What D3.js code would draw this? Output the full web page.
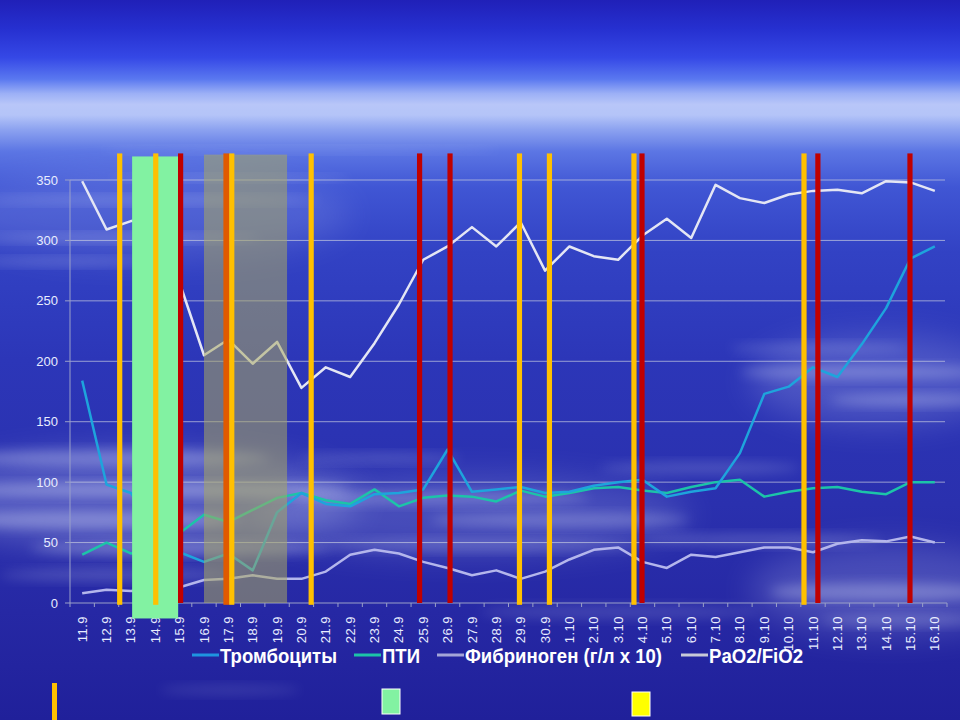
<!DOCTYPE html>
<html><head><meta charset="utf-8">
<script src="https://cdn.jsdelivr.net/npm/d3@7"></script>
<style>html,body{margin:0;padding:0;background:#2828a8;}svg{display:block;}</style>
</head><body>
<svg id="c" width="960" height="720"></svg>
<script>
const categories = ["11.9","12.9","13.9","14.9","15.9","16.9","17.9","18.9","19.9","20.9","21.9","22.9","23.9","24.9","25.9","26.9","27.9","28.9","29.9","30.9","1.10","2.10","3.10","4.10","5.10","6.10","7.10","8.10","9.10","10.10","11.10","12.10","13.10","14.10","15.10","16.10"];
const trombocity = [184,98,91,62,42,34,41,27,75,91,82,80,90,91,94,127,92,94,96,91,92,97,100,102,88,92,95,124,173,179,195,187,214,244,285,295];
const pti = [40,50,41,48,58,73,67,77,87,91,85,82,94,80,87,89,88,84,93,88,91,95,96,93,91,96,100,102,88,92,95,96,92,90,100,100];
const fibrinogen = [8,11,10,12,13,19,20,23,20,20,26,40,44,41,34,29,23,27,20,26,36,44,46,34,29,40,38,42,46,46,42,49,52,51,55,50];
const pao2 = [349,309,316,318,265,205,218,198,216,178,195,187,215,247,284,295,311,295,315,275,295,287,284,304,318,302,346,335,331,338,341,342,339,349,348,341];
const yTicks = [0,50,100,150,200,250,300,350];
const seriesNames = ["Тромбоциты","ПТИ","Фибриноген (г/л х 10)","PaO2/FiO2"];
// annotation markers, positions in category-index units, value extents in y units
const orangeMarks = [1.54, 3.02, 6.14, 9.40, 17.95, 19.18, 22.65, 29.63];
const redMarks = [4.04, 13.85, 15.10, 22.98, 30.20, 33.98];
const orangeRedMarks = [5.92];
const greenSpan = [2.05, 3.94];
const graySpan = [5.0, 8.41];

const svg = d3.select("#c");
const W = 960, H = 720;
const defs = svg.append("defs");
const bg = defs.append("linearGradient").attr("id","bg").attr("x1",0).attr("y1",0).attr("x2",0).attr("y2",1);
[[0,"#2020b8"],[0.04,"#2630d0"],[0.08,"#3548e6"],[0.11,"#5a78f0"],[0.13,"#9cb0f6"],[0.145,"#b8c6f8"],[0.16,"#b4c4f8"],[0.18,"#8ca2f0"],[0.21,"#5c76e4"],[0.26,"#4056d4"],[0.35,"#3242c4"],[0.5,"#2c36b8"],[0.7,"#2a30ae"],[0.85,"#2628a4"],[1,"#20209a"]]
  .forEach(([o,c])=>bg.append("stop").attr("offset",o).attr("stop-color",c));
const blur = defs.append("filter").attr("id","blur").attr("x","-50%").attr("y","-50%").attr("width","200%").attr("height","200%");
blur.append("feGaussianBlur").attr("stdDeviation",6);
const blur2 = defs.append("filter").attr("id","blur2").attr("x","-50%").attr("y","-50%").attr("width","200%").attr("height","200%");
blur2.append("feGaussianBlur").attr("stdDeviation",16);

svg.append("rect").attr("width",W).attr("height",H).attr("fill","url(#bg)");
svg.append("g").selectAll("ellipse").data([[140,500,220,50,0.22],[470,515,220,40,0.16],[880,380,130,45,0.18],[890,590,140,45,0.18],[150,215,200,45,0.12]]).join("ellipse")
  .attr("cx",d=>d[0]).attr("cy",d=>d[1]).attr("rx",d=>d[2]).attr("ry",d=>d[3])
  .attr("fill","#dfe6ff").attr("opacity",d=>d[4]).attr("filter","url(#blur2)");
const cloudData = [
  [150,200,170,4,0.22],[120,238,140,4,0.25],[60,262,90,4,0.22],[230,178,120,3,0.18],[300,150,200,3,0.15],
  [110,458,160,8,0.3],[150,490,200,7,0.35],[90,520,150,9,0.32],[180,548,150,7,0.3],[120,575,120,6,0.2],
  [440,498,150,7,0.25],[560,520,130,7,0.25],[480,545,160,6,0.22],[380,458,80,5,0.18],
  [860,372,120,7,0.28],[910,400,80,6,0.28],[820,348,90,5,0.18],
  [880,592,110,9,0.3],[900,620,80,6,0.22],[760,540,120,6,0.2],[700,468,100,6,0.18],
  [620,612,140,7,0.15],[230,690,70,5,0.12]
];
svg.append("g").selectAll("ellipse").data(cloudData).join("ellipse")
  .attr("cx",d=>d[0]).attr("cy",d=>d[1]).attr("rx",d=>d[2]).attr("ry",d=>d[3])
  .attr("fill","#e6ecff").attr("opacity",d=>d[4]).attr("filter","url(#blur)");

const x = d3.scaleBand().domain(categories).range([70,947]).padding(0);
const bw = x.bandwidth();
const cx = c => x(c) + bw/2;
const xi = d3.scaleLinear().domain([0,categories.length-1]).range([cx(categories[0]), cx(categories[categories.length-1])]);
const y = d3.scaleLinear().domain([0,350]).range([603,180]);

// grid
svg.append("g").selectAll("line").data(yTicks.slice(1)).join("line")
  .attr("x1",70).attr("x2",945).attr("y1",d=>y(d)).attr("y2",d=>y(d))
  .attr("stroke","#c8cce0").attr("stroke-opacity",0.7).attr("stroke-width",1);
// axes
svg.append("line").attr("x1",70).attr("x2",70).attr("y1",y(350)).attr("y2",y(0)).attr("stroke","#9aa0c8").attr("stroke-width",1);
svg.append("line").attr("x1",70).attr("x2",947).attr("y1",y(0)).attr("y2",y(0)).attr("stroke","#9aa0c8").attr("stroke-width",1);
svg.append("g").selectAll("line").data(categories.concat(["_end"])).join("line")
  .attr("x1",(d,i)=>70+i*bw).attr("x2",(d,i)=>70+i*bw).attr("y1",y(0)).attr("y2",y(0)+4)
  .attr("stroke","#9aa0c8");
svg.append("g").selectAll("line").data(yTicks).join("line")
  .attr("x1",65).attr("x2",70).attr("y1",d=>y(d)).attr("y2",d=>y(d)).attr("stroke","#9aa0c8");
svg.append("g").selectAll("text").data(yTicks).join("text")
  .attr("x",58).attr("y",d=>y(d)).attr("dy","0.35em").attr("text-anchor","end")
  .attr("font-family","Liberation Sans, Arial, sans-serif").attr("font-size",13).attr("fill","#e8ecff")
  .text(d=>d);
svg.append("g").selectAll("text").data(categories).join("text")
  .attr("transform",d=>`translate(${cx(d)},616) rotate(-90)`).attr("text-anchor","end").attr("dy","0.35em")
  .attr("font-family","Liberation Sans, Arial, sans-serif").attr("font-size",13).attr("fill","#e8ecff")
  .attr("letter-spacing",0.5)
  .text(d=>d);

// series lines
const series = [
  {vals:fibrinogen,color:"#b4b6ec",w:2.5},
  {vals:pao2,color:"#e4e6f4",w:2.5},
  {vals:pti,color:"#1cc4a8",w:2.5},
  {vals:trombocity,color:"#1ea4dc",w:2.5}
];
const line = d3.line().x((d,i)=>xi(i)).y(d=>y(d));
svg.append("g").selectAll("path").data(series).join("path")
  .attr("d",d=>line(d.vals)).attr("fill","none").attr("stroke",d=>d.color).attr("stroke-width",d=>d.w)
  .attr("stroke-linejoin","round");

// annotations
const ann = svg.append("g");
ann.append("rect").attr("x",xi(graySpan[0])).attr("width",xi(graySpan[1])-xi(graySpan[0]))
  .attr("y",y(371)).attr("height",y(0)-y(371)).attr("fill","rgb(168,168,96)").attr("opacity",0.55);
ann.append("rect").attr("x",xi(greenSpan[0])).attr("width",xi(greenSpan[1])-xi(greenSpan[0]))
  .attr("y",y(369.5)).attr("height",y(-12.8)-y(369.5)).attr("fill","#82f2a2");
ann.selectAll(".red").data(redMarks).join("rect").attr("class","red")
  .attr("x",d=>xi(d)-2.6).attr("width",5.2).attr("y",y(372)).attr("height",y(0)-y(372)).attr("fill","#c00000");
ann.selectAll(".ored").data(orangeRedMarks).join("rect").attr("class","ored")
  .attr("x",d=>xi(d)-3).attr("width",6).attr("y",y(372)).attr("height",y(-1.5)-y(372)).attr("fill","#e05a00");
ann.selectAll(".orange").data(orangeMarks).join("rect").attr("class","orange")
  .attr("x",d=>xi(d)-2.6).attr("width",5.2).attr("y",y(372)).attr("height",y(-1.5)-y(372)).attr("fill","#ffc000");

// legend
const legColors = ["#1e94e0","#1cc4a8","#a4a6d8","#c8cad8"];
const legX = [192, 354, 437, 681];
const legW = [117, 38, 197, 94];
const leg = svg.append("g").attr("font-family","Liberation Sans, Arial, sans-serif").attr("font-weight","bold").attr("font-size",21).attr("fill","#ffffff");
seriesNames.forEach((n,i)=>{
  leg.append("line").attr("x1",legX[i]).attr("x2",legX[i]+27).attr("y1",655).attr("y2",655).attr("stroke",legColors[i]).attr("stroke-width",3);
  leg.append("text").attr("x",legX[i]+28).attr("y",663).attr("textLength",legW[i]).attr("lengthAdjust","spacingAndGlyphs").text(n);
});

// bottom key
svg.append("rect").attr("x",52).attr("y",683).attr("width",5).attr("height",37).attr("fill","#ffc000");
svg.append("rect").attr("x",382).attr("y",689).attr("width",18).attr("height",25).attr("fill","#82f2a2").attr("stroke","#ffffff").attr("stroke-width",1);
svg.append("rect").attr("x",632).attr("y",692).attr("width",18).attr("height",24).attr("fill","#ffff00").attr("stroke","#ffffff").attr("stroke-width",1);
</script>
</body></html>
